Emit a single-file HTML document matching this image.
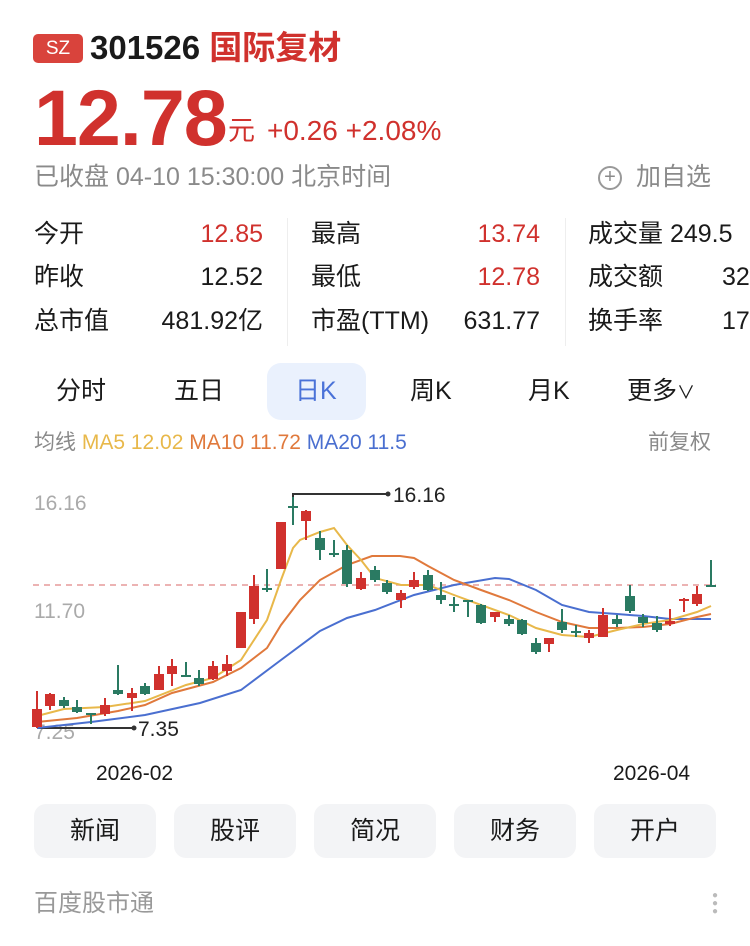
<!DOCTYPE html><html><head><meta charset="utf-8"><style>
*{margin:0;padding:0;box-sizing:border-box}
body{width:750px;height:946px;background:#fff;font-family:"Liberation Sans","Noto Sans CJK SC",sans-serif;position:relative;overflow:hidden;color:#1a1a1a}
.a{position:absolute;white-space:nowrap}
.r{color:#d0312d}.g{color:#8a8a8a}
.btn{position:absolute;top:804px;width:122px;height:54px;background:#f3f4f6;border-radius:12px;font-size:25px;text-align:center;line-height:54px;color:#1a1a1a}
</style></head><body>
<div class="a" style="left:33px;top:34px;width:50px;height:29px;background:#d9433c;border-radius:5px;color:#fff;font-size:19px;text-align:center;line-height:29px">SZ</div>
<div class="a" style="left:90px;top:28px;font-size:33px;font-weight:bold;line-height:40px">301526 <span class="r">国际复材</span></div>
<div class="a r" style="left:34px;top:76px;font-size:79px;font-weight:bold;line-height:84px;letter-spacing:-1px">12.78</div>
<div class="a r" style="left:228px;top:113px;font-size:27px;line-height:36px">元<span style="font-size:28px;margin-left:12px">+0.26 +2.08%</span></div>
<div class="a g" style="left:34px;top:160px;font-size:25px;line-height:34px">已收盘 04-10 15:30:00 北京时间</div>
<div class="a g" style="left:598px;top:160px;font-size:25px;line-height:34px"><span style="display:inline-block;width:24px;height:24px;border:2px solid #999;border-radius:50%;font-size:20px;line-height:19px;text-align:center;vertical-align:2px;margin-right:14px">+</span>加自选</div>
<div class="a" style="left:34px;top:216px;font-size:25px;line-height:36px">今开</div><div class="a r" style="left:190px;width:73px;text-align:right;top:216px;font-size:25px;line-height:36px">12.85</div>
<div class="a" style="left:34px;top:259px;font-size:25px;line-height:36px">昨收</div><div class="a" style="left:190px;width:73px;text-align:right;top:259px;font-size:25px;line-height:36px">12.52</div>
<div class="a" style="left:34px;top:303px;font-size:25px;line-height:36px">总市值</div><div class="a" style="left:140px;width:123px;text-align:right;top:303px;font-size:25px;line-height:36px">481.92亿</div>
<div class="a" style="left:287px;top:218px;width:1px;height:128px;background:#eee"></div>
<div class="a" style="left:565px;top:218px;width:1px;height:128px;background:#eee"></div>
<div class="a" style="left:311px;top:216px;font-size:25px;line-height:36px">最高</div><div class="a r" style="left:460px;width:80px;text-align:right;top:216px;font-size:25px;line-height:36px">13.74</div>
<div class="a" style="left:311px;top:259px;font-size:25px;line-height:36px">最低</div><div class="a r" style="left:460px;width:80px;text-align:right;top:259px;font-size:25px;line-height:36px">12.78</div>
<div class="a" style="left:311px;top:303px;font-size:25px;line-height:36px">市盈(TTM)</div><div class="a" style="left:440px;width:100px;text-align:right;top:303px;font-size:25px;line-height:36px">631.77</div>
<div class="a" style="left:588px;top:216px;font-size:25px;line-height:36px">成交量 249.5</div>
<div class="a" style="left:588px;top:259px;font-size:25px;line-height:36px">成交额 <span style="margin-left:52px">32</span></div>
<div class="a" style="left:588px;top:303px;font-size:25px;line-height:36px">换手率 <span style="margin-left:52px">17</span></div>
<div class="a" style="left:267px;top:363px;width:99px;height:57px;background:#eaf1fd;border-radius:14px"></div>
<div class="a" style="left:56px;top:374px;font-size:25px;line-height:34px">分时</div>
<div class="a" style="left:174px;top:374px;font-size:25px;line-height:34px">五日</div>
<div class="a" style="left:295px;top:374px;font-size:25px;line-height:34px;color:#4a72d8">日K</div>
<div class="a" style="left:410px;top:374px;font-size:25px;line-height:34px">周K</div>
<div class="a" style="left:528px;top:374px;font-size:25px;line-height:34px">月K</div>
<div class="a" style="left:627px;top:374px;font-size:25px;line-height:34px">更多<span style="font-size:18px">∨</span></div>
<div class="a" style="left:34px;top:429px;font-size:21px;line-height:28px"><span class="g">均线</span> <span style="color:#e8b84a">MA5 12.02</span> <span style="color:#e0793c">MA10 11.72</span> <span style="color:#4a6fd0">MA20 11.5</span></div>
<div class="a g" style="left:648px;top:429px;font-size:21px;line-height:28px">前复权</div>
<div class="a" style="left:34px;top:492px;font-size:21px;color:#aaa">16.16</div>
<div class="a" style="left:34px;top:600px;font-size:21px;color:#aaa">11.70</div>
<div class="a" style="left:34px;top:721px;font-size:21px;color:#aaa">7.25</div>
<svg class="a" style="left:0;top:0" width="750" height="800">
<line x1="33" y1="585" x2="716" y2="585" stroke="#e59a9a" stroke-width="1.5" stroke-dasharray="6,5"/>
<polyline fill="none" stroke="#333" stroke-width="2" points="293,507 293,494 388,494"/><circle cx="388" cy="494" r="2.5" fill="#333"/>
<polyline fill="none" stroke="#333" stroke-width="2" points="37,728 134,728"/><circle cx="134" cy="728" r="2.5" fill="#333"/>
<text x="393" y="502" font-size="21" fill="#222" font-family="Liberation Sans">16.16</text>
<text x="138" y="736" font-size="21" fill="#222" font-family="Liberation Sans">7.35</text>
<g stroke-width="2">
<polyline fill="none" stroke="#4a6fd0" points="37,728 91,722 145,715 200,703 241,690 281,660 320,631 347,618 375,610 414,595 454,585 495,578 509,579 536,590 562,605 589,612 617,614 643,616 670,619 697,619 711,619"/>
<polyline fill="none" stroke="#e0793c" points="37,722 77,718 118,711 145,705 172,693 213,682 241,668 267,648 281,625 300,600 320,580 347,565 372,556 400,556 414,558 428,566 454,580 481,590 509,600 536,612 562,622 589,628 617,628 643,627 670,624 697,617 711,614"/>
<polyline fill="none" stroke="#e8b84a" points="37,716 64,709 105,707 145,701 186,685 213,678 241,660 267,620 281,580 293,548 300,540 320,532 334,528 347,545 361,560 375,578 401,585 428,585 454,595 481,605 509,615 536,628 562,635 589,637 617,630 643,624 670,620 697,612 711,606"/>
</g>
<g id="c"></g>
</svg>
<script>
var d=[[37,709,727,691,728,1],[50,694,706,693,710,1],[64,700,706,697,708,0],[77,707,712,700,713,0],[91,713,715,713,724,0],[105,705,714,698,716,1],[118,690,694,665,695,0],[132,693,698,688,711,1],[145,686,694,683,695,0],[159,674,690,666,690,1],[172,666,674,659,686,1],[186,675,677,662,677,0],[199,678,684,670,686,0],[213,666,679,661,680,1],[227,664,671,655,676,1],[241,612,648,612,648,1],[254,586,619,575,624,1],[267,588,590,569,592,0],[281,522,569,522,569,1],[293,506,508,497,525,0],[306,511,521,510,540,1],[320,538,550,531,560,0],[334,553,555,540,557,0],[347,550,584,545,587,0],[361,578,589,572,590,1],[375,570,580,566,582,0],[387,583,592,580,594,0],[401,593,600,590,608,1],[414,580,587,572,589,1],[428,575,590,570,591,0],[441,595,600,582,604,0],[454,604,606,597,612,0],[468,600,602,600,617,0],[481,605,623,604,624,0],[495,612,617,612,622,1],[509,619,624,615,626,0],[522,620,634,619,635,0],[536,643,652,638,654,0],[549,638,644,638,652,1],[562,622,630,609,633,0],[576,631,633,625,637,0],[589,633,638,630,643,1],[603,615,637,608,637,1],[617,619,624,615,627,0],[630,596,611,585,613,0],[643,617,623,614,627,0],[657,623,630,616,632,0],[670,621,624,609,626,1],[684,599,601,598,612,1],[697,594,604,586,606,1],[711,585,587,560,587,0]];
var s='';d.forEach(function(c){var col=c[5]?'#d0312d':'#2a7a62';s+='<line x1="'+c[0]+'" x2="'+c[0]+'" y1="'+c[3]+'" y2="'+c[4]+'" stroke="'+col+'" stroke-width="2"/><rect x="'+(c[0]-5)+'" y="'+c[1]+'" width="10" height="'+Math.max(2,c[2]-c[1])+'" fill="'+col+'"/>';});
document.getElementById('c').innerHTML=s;
</script>
<div class="a" style="left:96px;top:760px;font-size:21px;line-height:28px">2026-02</div>
<div class="a" style="left:613px;top:760px;font-size:21px;line-height:28px">2026-04</div>
<div class="btn" style="left:34px">新闻</div>
<div class="btn" style="left:174px">股评</div>
<div class="btn" style="left:314px">简况</div>
<div class="btn" style="left:454px">财务</div>
<div class="btn" style="left:594px">开户</div>
<div class="a" style="left:34px;top:888px;font-size:24px;line-height:32px;color:#999">百度股市通</div>
<div class="a" style="left:712px;top:892px;width:5px;line-height:8px;color:#bbb;font-size:10px">●<br>●<br>●</div>
</body></html>
